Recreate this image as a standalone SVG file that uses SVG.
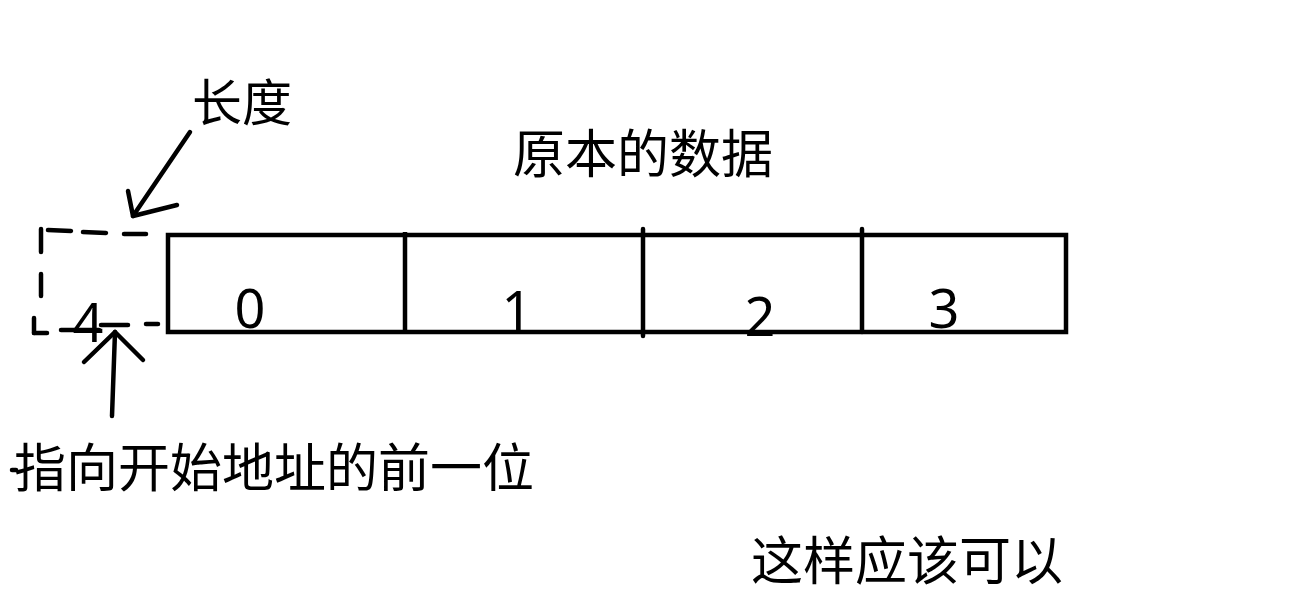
<svg xmlns="http://www.w3.org/2000/svg" width="1315" height="594" viewBox="0 0 1315 594">
<style>
.ln{stroke:#000;stroke-width:4.5;fill:none;stroke-linecap:round;stroke-linejoin:round}
.bx{stroke:#000;stroke-width:4.5;fill:none;stroke-linecap:butt}
.zh{font-family:"Noto Sans CJK SC","Liberation Sans",sans-serif;font-size:52px;fill:#000}
.dg{font-family:"Noto Sans","Liberation Sans",sans-serif;font-size:54px;fill:#000;text-anchor:middle}
</style>
<rect width="1315" height="594" fill="#fff"/>
<g id="array">
<rect class="bx" x="168" y="235" width="898" height="97"/>
<line class="bx" x1="405" y1="232" x2="405" y2="332"/>
<line class="ln" x1="643" y1="229" x2="643" y2="336"/>
<line class="ln" x1="862" y1="229" x2="862" y2="332"/>
<text class="dg" x="250" y="328">0</text>
<text class="dg" x="517" y="330">1</text>
<text class="dg" x="760" y="336">2</text>
<text class="dg" x="944" y="328">3</text>
</g>
<g id="dashed-box">
<line class="ln" x1="41" y1="229" x2="41" y2="252"/>
<line class="ln" x1="41" y1="274" x2="41" y2="296"/>
<line class="ln" x1="34" y1="318" x2="34" y2="333"/>
<line class="ln" x1="48" y1="230" x2="71" y2="231"/>
<line class="ln" x1="83" y1="232" x2="106" y2="233"/>
<line class="ln" x1="124" y1="234" x2="146" y2="234"/>
<line class="ln" x1="34" y1="333" x2="47" y2="333"/>
<line class="ln" x1="61" y1="330" x2="99" y2="330"/>
<line class="ln" x1="101" y1="325" x2="128" y2="325"/>
<line class="ln" x1="146" y1="324" x2="158" y2="324"/>
<text class="dg" x="88" y="342">4</text>
</g>
<g id="connectors">
<line class="ln" x1="190" y1="132" x2="133" y2="216"/>
<polyline class="ln" points="128,191 133,216 177,205"/>
<line class="ln" x1="112" y1="416" x2="115" y2="332"/>
<polyline class="ln" points="84,362 115,332 143,360"/>
</g>
<g id="labels">
<text class="zh" x="192" y="121" style="font-size:50px">长度</text>
<text class="zh" x="513" y="173">原本的数据</text>
<line class="ln" x1="12" y1="470" x2="16" y2="470"/>
<text class="zh" x="14" y="487">指向开始地址的前一位</text>
<text class="zh" x="751" y="580">这样应该可以</text>
</g>
</svg>
